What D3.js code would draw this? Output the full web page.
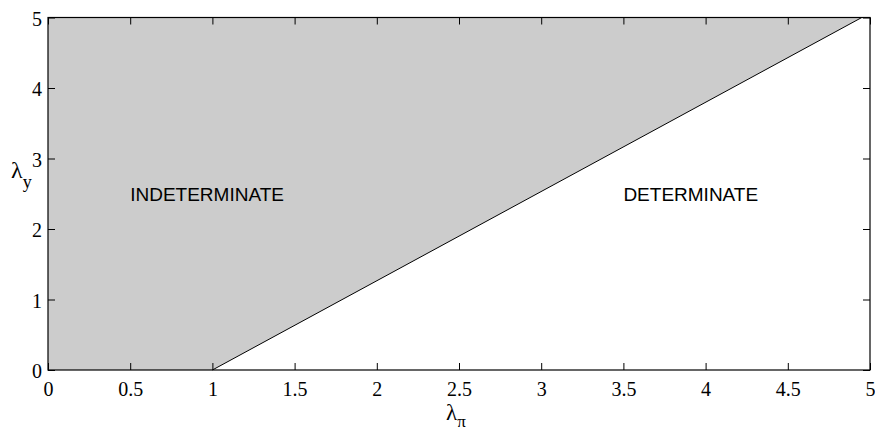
<!DOCTYPE html>
<html><head><meta charset="utf-8">
<script src="https://cdn.jsdelivr.net/npm/d3@7"></script>
<style>body{margin:0;background:#fff;}</style>
</head><body>
<svg id="c" width="875" height="433"></svg>
<script>
const xTicks = [0,0.5,1,1.5,2,2.5,3,3.5,4,4.5,5];
const xTickLabels = ["0","0.5","1","1.5","2","2.5","3","3.5","4","4.5","5"];
const yTicks = [0,1,2,3,4,5];
const yTickLabels = ["0","1","2","3","4","5"];
const boundaryX = [1, 4.95];
const boundaryY = [0, 5];
const regionLabels = ["INDETERMINATE","DETERMINATE"];
const regionLabelX = [0.5, 3.5];
const regionLabelY = [2.5, 2.5];

const SERIF = "'Liberation Serif'";
const SANS = "'Liberation Sans'";

const svg = d3.select("#c");
const L=48, R=870, T=17.5, B=370;
const x = d3.scaleLinear().domain([0,5]).range([L,R]);
const y = d3.scaleLinear().domain([0,5]).range([B,T]);

const poly = [[0,0],[boundaryX[0],boundaryY[0]],[boundaryX[1],boundaryY[1]],[0,5]];
svg.append("path")
  .attr("d", d3.line().x(d=>x(d[0])).y(d=>y(d[1]))(poly)+"Z")
  .attr("fill","#cccccc").attr("stroke","none");

svg.append("path")
  .attr("d", d3.line().x(d=>x(d[0])).y(d=>y(d[1]))(boundaryX.map((v,i)=>[v,boundaryY[i]])))
  .attr("fill","none").attr("stroke","#000").attr("stroke-width",1);

const tickLen = 7;
const fmtX = (d,i)=>xTickLabels[i];
const fmtY = (d,i)=>yTickLabels[i];

const gB = svg.append("g").attr("transform",`translate(0,${B})`)
  .call(d3.axisBottom(x).tickValues(xTicks).tickFormat(fmtX).tickSizeInner(-tickLen).tickSizeOuter(0));
const gT = svg.append("g").attr("transform",`translate(0,${T})`)
  .call(d3.axisTop(x).tickValues(xTicks).tickFormat("").tickSizeInner(-tickLen).tickSizeOuter(0));
const gL = svg.append("g").attr("transform",`translate(${L},0)`)
  .call(d3.axisLeft(y).tickValues(yTicks).tickFormat(fmtY).tickSizeInner(-tickLen).tickSizeOuter(0).tickPadding(6));
const gR = svg.append("g").attr("transform",`translate(${R},0)`)
  .call(d3.axisRight(y).tickValues(yTicks).tickFormat("").tickSizeInner(-tickLen).tickSizeOuter(0));

[gB,gT,gL,gR].forEach(g=>{
  g.attr("font-family",null).attr("font-size",null);
  g.select(".domain").remove();
  g.selectAll(".tick line").attr("stroke","#000");
  g.selectAll("text").style("font-family",SERIF).style("font-size","20px").attr("fill","#000");
});
gB.selectAll(".tick text").attr("dy",null).attr("y",26);
gL.selectAll(".tick text").attr("dy","0.38em");

svg.append("rect").attr("x",L).attr("y",T).attr("width",R-L).attr("height",B-T)
  .attr("fill","none").attr("stroke","#000").attr("stroke-width",1.2);

svg.selectAll("text.reg").data(regionLabels).enter().append("text")
  .attr("class","reg")
  .attr("x",(d,i)=>x(regionLabelX[i]))
  .attr("y",(d,i)=>y(regionLabelY[i])+7)
  .style("font-family",SANS)
  .style("font-size","19px").attr("fill","#000")
  .text(d=>d);

const xl = svg.append("text").attr("x",446).attr("y",420)
  .style("font-family",SERIF).style("font-size","23px");
xl.append("tspan").text("λ");
xl.append("tspan").style("font-size","17px").attr("dy",7).text("π");

const yl = svg.append("text").attr("x",11).attr("y",178)
  .style("font-family",SERIF).style("font-size","24px");
yl.append("tspan").text("λ");
yl.append("tspan").style("font-size","18px").attr("dy",10).text("y");
</script>
</body></html>
